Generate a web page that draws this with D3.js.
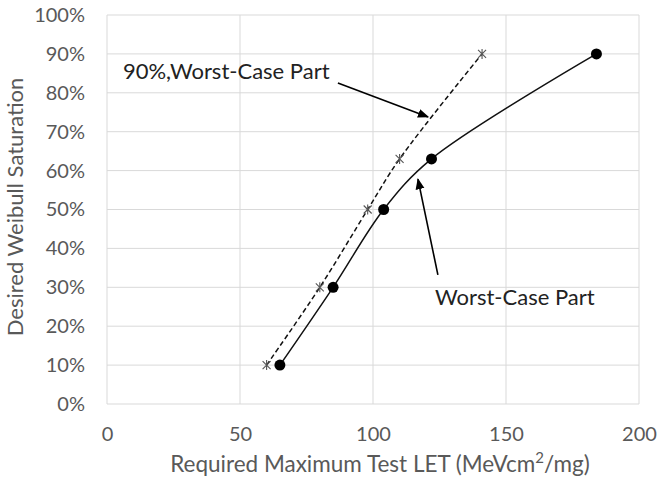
<!DOCTYPE html>
<html>
<head>
<meta charset="utf-8">
<script src="https://cdn.jsdelivr.net/npm/d3@7"></script>
<style>
  body { margin: 0; background: #fff; }
</style>
</head>
<body>
<div id="chart"></div>
<script>
// tick values
const xTicks = [0, 50, 100, 150, 200];
const yTicks = [0, 0.1, 0.2, 0.3, 0.4, 0.5, 0.6, 0.7, 0.8, 0.9, 1.0];

// Worst-Case Part (solid, dots)
const worstLet = [65, 85, 104, 122, 184];
const worstSat = [0.10, 0.30, 0.50, 0.63, 0.90];

// 90%, Worst-Case Part (dashed, stars)
const p90Let = [60, 80, 98, 110, 141];
const p90Sat = [0.10, 0.30, 0.50, 0.63, 0.90];

const width = 657, height = 479;
const margin = {top: 15, right: 18, bottom: 75, left: 107};
const font = 'Lato, "Open Sans", sans-serif';

const svg = d3.select('#chart')
  .append('svg')
  .attr('width', width)
  .attr('height', height);

const x = d3.scaleLinear().domain([0, 200]).range([margin.left, width - margin.right]);
const y = d3.scaleLinear().domain([0, 1]).range([height - margin.bottom, margin.top]);

// grid
svg.append('g')
  .selectAll('line')
  .data(xTicks)
  .join('line')
  .attr('x1', d => x(d)).attr('x2', d => x(d))
  .attr('y1', y(0)).attr('y2', y(1))
  .attr('stroke', '#d9d9d9');

svg.append('g')
  .selectAll('line')
  .data(yTicks)
  .join('line')
  .attr('x1', x(0)).attr('x2', x(200))
  .attr('y1', d => y(d)).attr('y2', d => y(d))
  .attr('stroke', '#d9d9d9');

// axes (labels only)
svg.append('g')
  .attr('transform', `translate(0,${y(0)})`)
  .call(d3.axisBottom(x).tickValues(xTicks).tickSize(0).tickPadding(23))
  .call(g => g.select('.domain').remove())
  .call(g => g.selectAll('text').attr('font-family', font).attr('font-size', 20).attr('fill', '#595959'));

svg.append('g')
  .attr('transform', `translate(${x(0)},0)`)
  .call(d3.axisLeft(y).tickValues(yTicks).tickFormat(d3.format('.0%')).tickSize(0).tickPadding(22))
  .call(g => g.select('.domain').remove())
  .call(g => g.selectAll('text').attr('font-family', font).attr('font-size', 20).attr('fill', '#595959'));

// axis titles
svg.append('text')
  .attr('x', 380)
  .attr('y', 472)
  .attr('text-anchor', 'middle')
  .attr('font-family', font)
  .attr('font-size', 22.5)
  .attr('fill', '#595959')
  .html('Required Maximum Test LET (MeVcm<tspan baseline-shift="super" font-size="15">2</tspan>/mg)');

svg.append('text')
  .attr('transform', 'translate(23,207) rotate(-90)')
  .attr('text-anchor', 'middle')
  .attr('font-family', font)
  .attr('font-size', 22)
  .attr('fill', '#595959')
  .text('Desired Weibull Saturation');

const line = d3.line()
  .x(d => x(d[0]))
  .y(d => y(d[1]))
  .curve(d3.curveCatmullRom.alpha(0.5));

const p90 = p90Let.map((v, i) => [v, p90Sat[i]]);
const worst = worstLet.map((v, i) => [v, worstSat[i]]);

// dashed series
svg.append('path')
  .datum(p90)
  .attr('fill', 'none')
  .attr('stroke', '#111')
  .attr('stroke-width', 1.5)
  .attr('stroke-dasharray', '5,3')
  .attr('d', line);

svg.append('g')
  .selectAll('path')
  .data(p90)
  .join('path')
  .attr('transform', d => `translate(${x(d[0])},${y(d[1])})`)
  .attr('d', 'M-4,-4L4,4M-4,4L4,-4M0,-5L0,5')
  .attr('stroke', '#555')
  .attr('stroke-width', 1.1)
  .attr('fill', 'none');

// solid series
svg.append('path')
  .datum(worst)
  .attr('fill', 'none')
  .attr('stroke', '#111')
  .attr('stroke-width', 1.5)
  .attr('d', line);

svg.append('g')
  .selectAll('circle')
  .data(worst)
  .join('circle')
  .attr('cx', d => x(d[0]))
  .attr('cy', d => y(d[1]))
  .attr('r', 5.5)
  .attr('fill', '#000');

// annotations
svg.append('defs').append('marker')
  .attr('id', 'arrow')
  .attr('viewBox', '0 0 10 10')
  .attr('refX', 9).attr('refY', 5)
  .attr('markerWidth', 7).attr('markerHeight', 7)
  .attr('orient', 'auto')
  .append('path')
  .attr('d', 'M0,1L10,5L0,9z')
  .attr('fill', '#000');

const notes = [
  {text: '90%,Worst-Case Part', tx: 6, ty: 0.835, from: [86.8, 0.825], to: [120.7, 0.738]},
  {text: 'Worst-Case Part', tx: 123.3, ty: 0.254, from: [124.4, 0.332], to: [116.9, 0.578]}
];

svg.append('g')
  .selectAll('line')
  .data(notes)
  .join('line')
  .attr('x1', d => x(d.from[0])).attr('y1', d => y(d.from[1]))
  .attr('x2', d => x(d.to[0])).attr('y2', d => y(d.to[1]))
  .attr('stroke', '#000')
  .attr('stroke-width', 1.6)
  .attr('marker-end', 'url(#arrow)');

svg.append('g')
  .selectAll('text')
  .data(notes)
  .join('text')
  .attr('x', d => x(d.tx))
  .attr('y', d => y(d.ty))
  .attr('font-family', font)
  .attr('font-size', 22)
  .attr('fill', '#222')
  .text(d => d.text);
</script>
</body>
</html>
